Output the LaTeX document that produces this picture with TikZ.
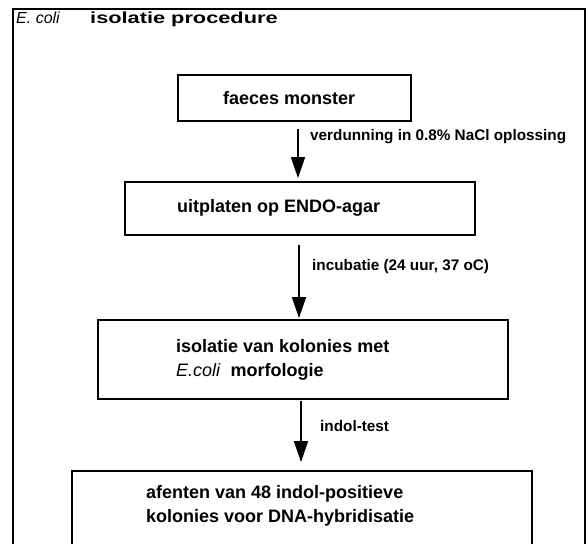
\documentclass[tikz,border=0pt]{standalone}
\usepackage{fontspec}
\setmainfont{Liberation Sans}
\usetikzlibrary{arrows.meta}
\begin{document}
\begin{tikzpicture}[x=1pt,y=-1pt,
  box/.style={draw, line width=1.8pt, rectangle, inner sep=0pt},
  boxtext/.style={anchor=west, inner sep=0pt, font=\fontsize{18}{22}\selectfont\bfseries},
  lbl/.style={anchor=west, inner sep=0pt, font=\fontsize{15.3}{18}\selectfont\bfseries},
  arr/.style={line width=1.6pt, -{Triangle[length=21pt,width=14pt]}}]
\useasboundingbox (0,0) rectangle (588,543);
% outer frame
\coordinate (fbl) at (13,548);
\coordinate (ftl) at (13,9);
\coordinate (ftr) at (585,9);
\coordinate (fbr) at (585,548);
\draw[line width=1.8pt] (fbl) -- (ftl) -- (ftr) -- (fbr);
\node[anchor=base west, inner sep=0pt, font=\fontsize{16}{20}\selectfont\itshape] (t1) at (16,24) {E. coli};
\node[anchor=base west, inner sep=0pt, font=\fontsize{16}{20}\selectfont\bfseries] (t2) at (90,24) {\scalebox{1.36}[1]{isolatie procedure}};
% boxes
\node[box, minimum width=233pt, minimum height=46pt] (b1) at (294.5,98) {};
\node[boxtext] (b1t) at (223,98) {faeces monster};
\node[box, minimum width=350pt, minimum height=53pt] (b2) at (300,208.5) {};
\node[boxtext] (b2t) at (177,208) {uitplaten op ENDO-agar};
\node[box, minimum width=410pt, minimum height=79pt] (b3) at (303,359.5) {};
\node[boxtext] (b3t1) at (176,346) {isolatie van kolonies met};
\node[boxtext] (b3t2) at (176,372) {\textit{\mdseries E.coli}\ \ morfologie};
\node[box, minimum width=460pt, minimum height=140pt] (b4) at (302,541) {};
\node[boxtext] (b4t1) at (146,494) {afenten van 48 indol-positieve};
\node[boxtext] (b4t2) at (146,518) {kolonies voor DNA-hybridisatie};
% arrows
\draw[arr, shorten <=7pt, shorten >=3pt] (b1.south -| 298,0) -- (b2.north -| 298,0);
\draw[arr, shorten <=9pt, shorten >=1pt] (b2.south -| 299,0) -- (b3.north -| 299,0);
\draw[arr, shorten <=1pt, shorten >=8pt] (b3.south -| 301,0) -- (b4.north -| 301,0);
% labels
\node[lbl] (l1) at (310,137) {verdunning in 0.8\% NaCl oplossing};
\node[lbl] (l2) at (312,267) {incubatie (24 uur, 37 oC)};
\node[lbl] (l3) at (320,426) {indol-test};
\end{tikzpicture}
\end{document}
